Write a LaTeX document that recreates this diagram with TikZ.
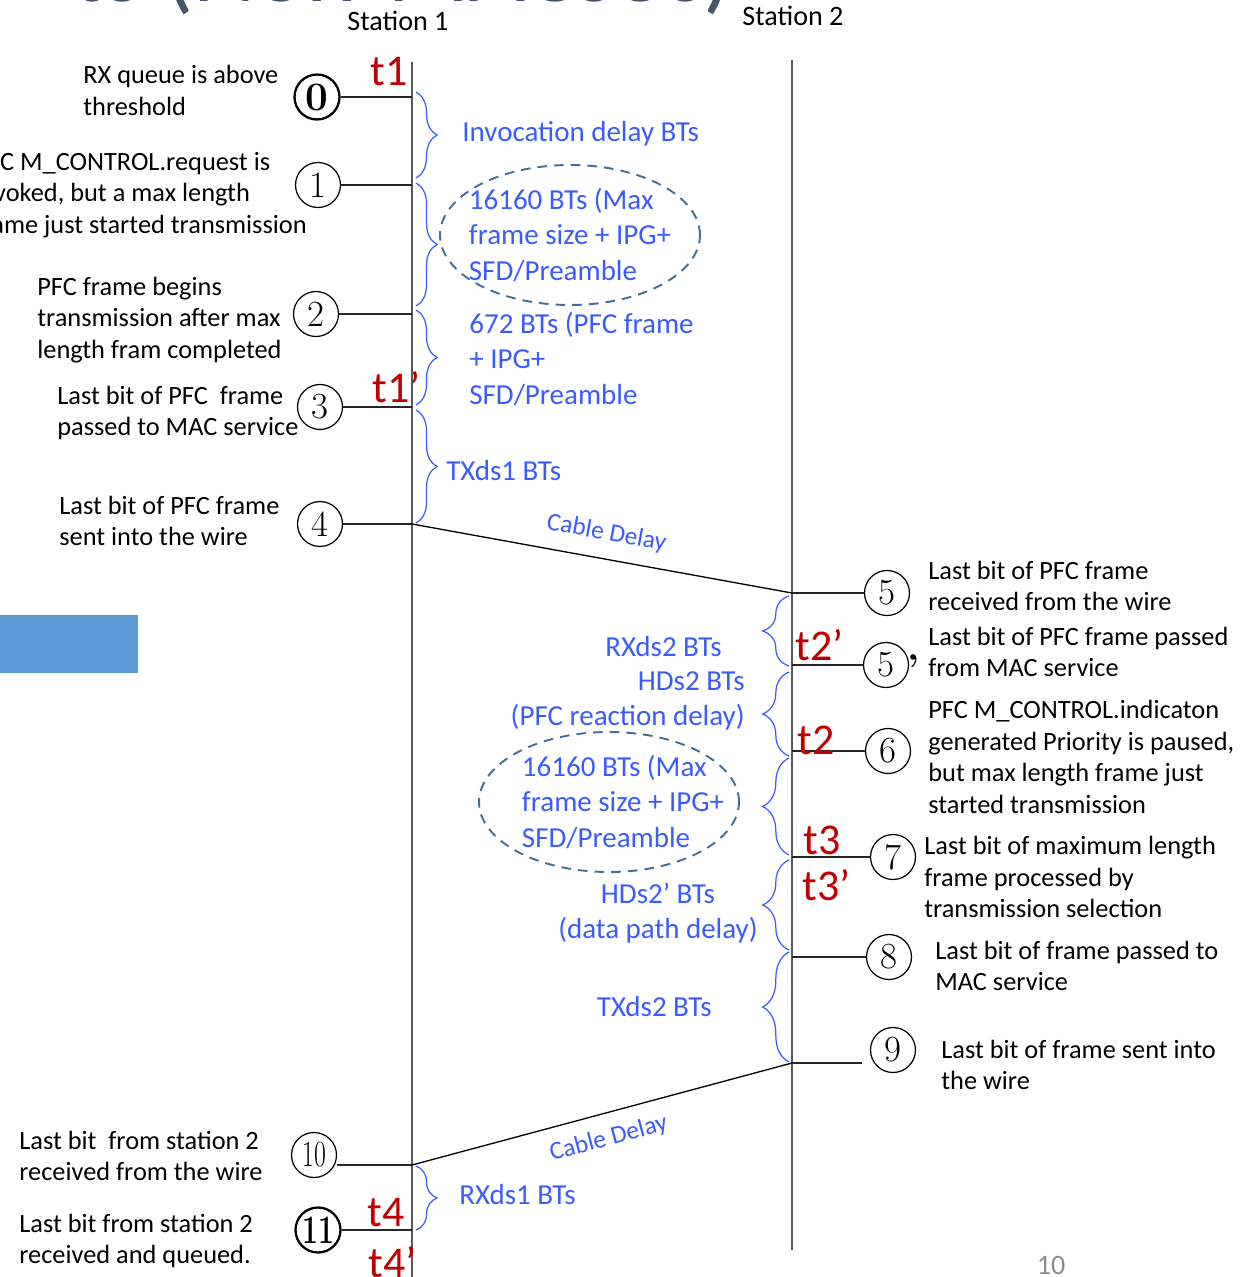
\documentclass[tikz,border=0pt]{standalone}
\usepackage{fontspec}
\setsansfont{Carlito}
\usetikzlibrary{positioning,calc,decorations.pathreplacing,shapes.geometric}
\definecolor{azul}{RGB}{58,92,255}
\definecolor{rojo}{RGB}{192,0,0}
\definecolor{linea}{RGB}{89,89,89}
\definecolor{elipse}{RGB}{68,110,150}
\definecolor{bloque}{RGB}{91,155,213}
\definecolor{titulo}{RGB}{68,84,106}
\definecolor{grisnum}{RGB}{140,140,140}

\begin{document}
\begin{tikzpicture}[x=0.02cm, y=-0.02cm,
  estacion/.style={draw=linea, line width=1.2pt},
  guia/.style={draw=black!85, line width=0.75pt},
  num/.style={circle, draw, line width=0.7pt, inner sep=0pt, minimum size=0.9cm,
    font=\fontsize{21}{21}\selectfont},
  numfuerte/.style={num, line width=1.3pt, font=\fontsize{23}{23}\selectfont\bfseries},
  nota/.style={anchor=west, align=left, inner sep=0pt,
    font=\sffamily\fontsize{15}{18}\selectfont},
  tiempo/.style={anchor=west, inner sep=0pt, text=rojo,
    font=\sffamily\fontsize{25}{25}\selectfont},
  retardo/.style={inner sep=0pt, text=azul, font=\sffamily\fontsize{16.5}{20}\selectfont},
  llave/.style={decorate, decoration={brace, amplitude=12pt}, draw=azul, line width=0.7pt},
  llavelarga/.style={llave, decoration={brace, amplitude=15pt}},
  burbuja/.style={ellipse, draw=elipse, dash pattern=on 5.5pt off 4pt, line width=1.1pt,
    minimum width=5.2cm, minimum height=2.8cm, inner sep=0pt},
  cable/.style={draw=black, line width=0.75pt},
  rotulo/.style={inner sep=0pt, font=\sffamily\fontsize{16}{16}\selectfont}
]
\useasboundingbox (0,0) rectangle (1245,1277);

% slide title, cut by the top edge
\node[anchor=base east, inner sep=0pt, text=titulo,
  font=\sffamily\fontsize{55}{55}\selectfont] (titulo) at (733,2) {ts (Non-MACsec)};
\fill[bloque] (0,615) rectangle (138,673);
\node[rotulo, text=grisnum] (pagina) at (1051,1265) {10};

% the two stations
\node[rotulo] (st1) at (398,21) {Station 1};
\node[rotulo] (st2) at (793,16) {Station 2};
\coordinate (s1a) at (412,62);
\coordinate (s1b) at (412,1277);
\coordinate (s2a) at (792,60);
\coordinate (s2b) at (792,1250);
\draw[estacion] (s1a) -- (s1b);
\draw[estacion] (s2a) -- (s2b);

% events on station 1
\coordinate (e0) at (412,97);
\coordinate (e1) at (412,185);
\coordinate (e2) at (412,314);
\coordinate (e3) at (412,407);
\coordinate (e4) at (412,524);
\coordinate (e10) at (412,1165);
\coordinate (e11) at (412,1230);
\node[numfuerte] (c0) at (317,97) {0};
\node[num] (c1) at (318,185) {1};
\node[num] (c2) at (316,314) {2};
\node[num] (c3) at (320,407) {3};
\node[num] (c4) at (320,524) {4};
\node[num] (c10) at (314,1155) {\scalebox{0.7}[1]{10}};
\node[numfuerte] (c11) at (318,1230) {\scalebox{0.7}[1]{11}};
\coordinate (f10) at (337,1165);
\draw[guia] (c0) -- (e0);
\draw[guia] (c1) -- (e1);
\draw[guia] (c2) -- (e2);
\draw[guia] (c3) -- (e3);
\draw[guia] (c4) -- (e4);
\draw[guia] (f10) -- (e10);
\draw[guia] (c11) -- (e11);

% events on station 2
\coordinate (e5) at (792,593);
\coordinate (e5b) at (792,665);
\coordinate (e6) at (792,751);
\coordinate (e7) at (792,857);
\coordinate (e8) at (792,957);
\coordinate (e9) at (792,1063);
\node[num] (c5) at (887,593) {5};
\node[num] (c5b) at (886,665) {5};
\node[inner sep=0pt, font=\fontsize{22}{22}\selectfont\bfseries] (prima) at (914,668) {’};
\node[num] (c6) at (888,751) {6};
\node[num] (c7) at (893,857) {7};
\node[num] (c8) at (889,957) {8};
\node[num] (c9) at (893,1050) {9};
\coordinate (f9) at (862,1063);
\draw[guia] (e5) -- (c5);
\draw[guia] (e5b) -- (c5b);
\draw[guia] (e6) -- (c6);
\draw[guia] (e7) -- (c7);
\draw[guia] (e8) -- (c8);
\draw[guia] (e9) -- (f9);

% the frame on the wire
\draw[cable] (e4) -- (e5)
  node[midway, sloped, above=8pt, inner sep=0pt, text=azul,
       font=\sffamily\fontsize{14.5}{14.5}\selectfont] (cd1) {Cable Delay};
\draw[cable] (e10) -- (e9)
  node[midway, sloped, below=8pt, inner sep=0pt, text=azul,
       font=\sffamily\fontsize{14.5}{14.5}\selectfont] (cd2) {Cable Delay};

% times
\node[tiempo] (t1) at (370,72) {t1};
\node[tiempo] (t1p) at (372,387) {t1’};
\node[tiempo] (t2p) at (795,645) {t2’};
\node[tiempo] (t2) at (797,740) {t2};
\node[tiempo] (t3) at (803,840) {t3};
\node[tiempo] (t3p) at (802,885) {t3’};
\node[tiempo] (t4) at (367,1213) {t4};
\node[tiempo] (t4p) at (368,1262) {t4’};

% what happens
\node[nota] (n0) at (83,90.5) {RX queue is above\\threshold};
\node[nota, anchor=east] (n1) at (307,195) {PFC M\_CONTROL.request is\\invoked, but a max length\\frame just started transmission};
\node[nota] (n2) at (37,320) {PFC frame begins\\transmission after max\\length fram completed};
\node[nota] (n3) at (57,413) {Last bit of PFC\ \ frame\\passed to MAC service};
\node[nota] (n4) at (59,521) {Last bit of PFC frame\\sent into the wire};
\node[nota] (n5) at (928,586) {Last bit of PFC frame\\received from the wire};
\node[nota] (n5b) at (928,652) {Last bit of PFC frame passed\\from MAC service};
\node[nota] (n6) at (928,757) {PFC M\_CONTROL.indicaton\\generated Priority is paused,\\but max length frame just\\started transmission};
\node[nota] (n7) at (924,877) {Last bit of maximum length\\frame processed by\\transmission selection};
\node[nota] (n8) at (935,966) {Last bit of frame passed to\\MAC service};
\node[nota] (n9) at (941,1065) {Last bit of frame sent into\\the wire};
\node[nota] (n10) at (19,1156) {Last bit\ \ from station 2\\received from the wire};
\node[nota] (n11) at (19,1241) {Last bit from station 2\\received and queued.};

% delays on station 1
\draw[llave] (416,92) -- (416,178);
\draw[llave] (416,183) -- (416,306);
\draw[llave] (416,310) -- (416,405);
\draw[llave] (416,410) -- (416,523);
\draw[llave] (416,1166) -- (416,1230);
\node[retardo, anchor=west] (d1) at (462,134) {Invocation delay BTs};
\node[burbuja] (max1) at (570,235) {};
\node[retardo, align=left] (tx1) at (max1.center) {16160 BTs (Max\\frame size + IPG+\\SFD/Preamble};
\node[retardo, anchor=west, align=left] (d3) at (469,359) {672 BTs (PFC frame\\+ IPG+\\SFD/Preamble};
\node[retardo, anchor=west] (d4) at (446,471) {TXds1 BTs};
\node[retardo, anchor=west] (d10) at (459,1195) {RXds1 BTs};

% delays on station 2
\draw[llavelarga] (789,666) -- (789,596);
\draw[llavelarga] (789,756) -- (789,672);
\draw[llavelarga] (789,855) -- (789,758);
\draw[llavelarga] (789,950) -- (789,860);
\draw[llavelarga] (789,1062) -- (789,952);
\node[retardo, anchor=east] (d5) at (722,647) {RXds2 BTs};
\node[retardo, anchor=east, align=right] (d6) at (745,701) {HDs2 BTs\\(PFC reaction delay)};
\node[burbuja] (max2) at (609,802) {};
\node[retardo, align=left, xshift=8pt] (tx2) at (max2.center) {16160 BTs (Max\\frame size + IPG+\\SFD/Preamble};
\node[retardo, anchor=east, align=center] (d8) at (758,913) {HDs2’ BTs\\(data path delay)};
\node[retardo, anchor=east] (d9) at (712,1007) {TXds2 BTs};
\end{tikzpicture}
\end{document}
